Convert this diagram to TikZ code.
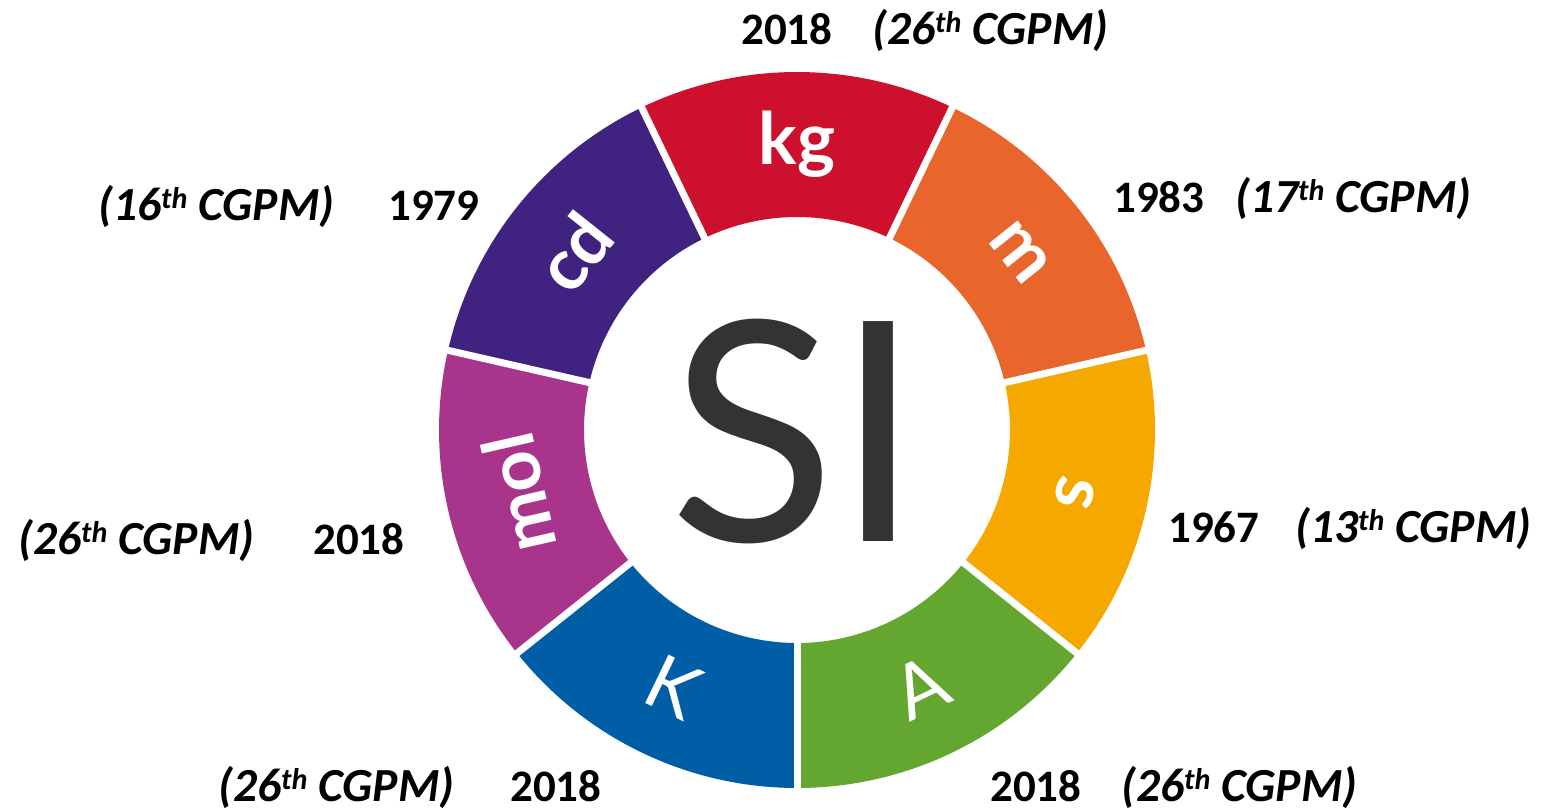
\documentclass[tikz,border=0pt]{standalone}
\usepackage{fontspec}
\setmainfont{Carlito}
\newfontfamily\latofont{Lato}

\definecolor{segkg}{HTML}{CC102E}
\definecolor{segm}{HTML}{E8652B}
\definecolor{segs}{HTML}{F5A800}
\definecolor{segA}{HTML}{63A630}
\definecolor{segK}{HTML}{005EA6}
\definecolor{segmol}{HTML}{A8358B}
\definecolor{segcd}{HTML}{402280}
\definecolor{sigray}{HTML}{333333}

% raised small ordinal suffix
\newcommand\ordsup[1]{\raisebox{12.5pt}{\fontsize{30}{32}\selectfont #1}}
% one annular sector of the ring: start angle, end angle, colour
\newcommand\ringseg[3]{%
  \fill[#3] (#1:358) arc[start angle=#1, end angle=#2, radius=358]
    -- (#2:213) arc[start angle=#2, end angle=#1, radius=213] -- cycle;}

\begin{document}
\begin{tikzpicture}[x=1pt, y=1pt,
  unitsym/.style={text=white, inner sep=0pt, font=\latofont\bfseries\fontsize{72}{78}\selectfont},
  unitthin/.style={text=white, inner sep=0pt, font=\latofont\fontsize{75}{80}\selectfont},
  sitext/.style={text=sigray, inner sep=0pt, font=\latofont\fontsize{307}{320}\selectfont},
  year/.style={inner sep=0pt, anchor=base west, font=\fontsize{45}{50}\selectfont\bfseries},
  cgpm/.style={inner sep=0pt, anchor=base west, font=\fontsize{47.5}{52}\selectfont\bfseries\itshape},
  gap/.style={white, line width=7}]
\useasboundingbox (0,0) rectangle (1545,811);

\begin{scope}[shift={(797,381)}]
  % coloured ring, seven equal sectors
  \ringseg{-90}{-38.571}{segA}
  \ringseg{-38.571}{12.857}{segs}
  \ringseg{12.857}{64.286}{segm}
  \ringseg{64.286}{115.714}{segkg}
  \ringseg{115.714}{167.143}{segcd}
  \ringseg{167.143}{218.571}{segmol}
  \ringseg{218.571}{270}{segK}
  % white separators between sectors
  \foreach \a in {-90,-38.571,12.857,64.286,115.714,167.143,218.571}
    \draw[gap] (\a:200) -- (\a:366);

  % central label
  \node[sitext, anchor=base] (si) at (-1.5,-112) {SI};

  % unit symbols: tops outward on the upper sectors, bottoms outward below
  \node[unitsym, rotate=0]       (kg)  at (90:285.5)      {kg};
  \node[unitsym, rotate=-51.43]  (m)   at (38.57:285.5)   {m};
  \node[unitsym, rotate=-102.86] (s)   at (-12.86:285.5)  {s};
  \node[unitthin, rotate=25.71]  (A)   at (-64.29:285.5)  {A};
  \node[unitthin, rotate=-25.71] (K)   at (244.29:285.5)  {K};
  \node[unitsym, rotate=102.86]  (mol) at (192.86:285.5)  {mol};
  \node[unitsym, rotate=51.43]   (cd)  at (141.43:285.5)  {cd};
\end{scope}

% dates of the definitions
\node[year] (ykg)  at (741,766) {2018};
\node[cgpm] (ckg)  at (872,766) {(26\ordsup{th} CGPM)};
\node[year] (ym)   at (1113,598) {1983};
\node[cgpm] (cm)   at (1235,598) {(17\ordsup{th} CGPM)};
\node[cgpm] (ccd)  at (98,590) {(16\ordsup{th} CGPM)};
\node[year] (ycd)  at (388,590) {1979};
\node[year] (ys)   at (1168,268) {1967};
\node[cgpm] (cs)   at (1295,268) {(13\ordsup{th} CGPM)};
\node[cgpm] (cmol) at (18,256) {(26\ordsup{th} CGPM)};
\node[year] (ymol) at (313,256) {2018};
\node[cgpm] (cK)   at (218,9) {(26\ordsup{th} CGPM)};
\node[year] (yK)   at (510,9) {2018};
\node[year] (yA)   at (990,9) {2018};
\node[cgpm] (cA)   at (1121,9) {(26\ordsup{th} CGPM)};
\end{tikzpicture}
\end{document}
